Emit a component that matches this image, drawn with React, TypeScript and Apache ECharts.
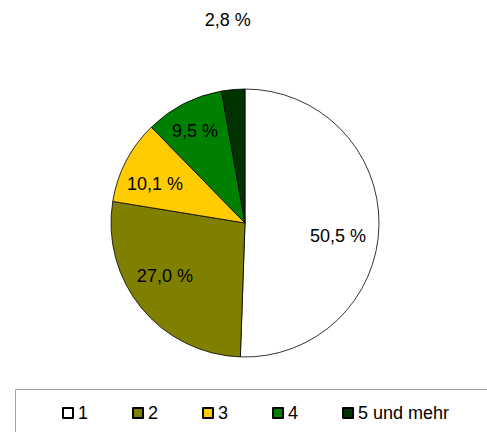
import React, { useEffect, useRef } from "react";
import * as echarts from "echarts";

const categories = ["1", "2", "3", "4", "5 und mehr"];
const values = [50.5, 27.0, 10.1, 9.5, 2.8];
const colors = ["#FFFFFF", "#808000", "#FFCC00", "#008000", "#003300"];
const labelOffsets = [
  [23, 12],
  [-26, 9],
  [-28, -7],
  [-18, -30],
  [-11, -133],
];

const FONT = "'Liberation Sans', Arial, sans-serif";

export default function App() {
  const ref = useRef<HTMLDivElement>(null);
  useEffect(() => {
    if (!ref.current) return;
    const chart = echarts.init(ref.current, undefined, { renderer: "svg" });
    chart.setOption({
      animation: false,
      backgroundColor: "#FFFFFF",
      legend: {
        data: categories,
        left: 62,
        top: 404,
        padding: 0,
        itemGap: 44,
        itemWidth: 10,
        itemHeight: 10,
        icon: "rect",
        textStyle: { fontFamily: FONT, fontSize: 18, color: "#000" },
      },
      graphic: [
        {
          type: "rect",
          shape: { x: 15.5, y: 389.5, width: 500, height: 100 },
          style: { fill: "none", stroke: "#A0A0A0", lineWidth: 1 },
          silent: true,
        },
      ],
      series: [
        {
          type: "pie",
          center: [245, 223],
          radius: [0, 134],
          startAngle: 90,
          clockwise: true,
          avoidLabelOverlap: false,
          itemStyle: { borderColor: "#000", borderWidth: 0.8 },
          label: {
            show: true,
            position: "inside",
            color: "#000",
            fontFamily: FONT,
            fontSize: 18,
            formatter: (p: any) => p.value.toFixed(1).replace(".", ",") + " %",
          },
          labelLine: { show: false },
          emphasis: { disabled: true },
          data: categories.map((c, i) => ({
            name: c,
            value: values[i],
            itemStyle: { color: colors[i] },
            label: { offset: labelOffsets[i] },
          })),
        },
      ],
    });
    return () => chart.dispose();
  }, []);
  return (
    <div
      ref={ref}
      style={{ position: "fixed", left: 0, top: 0, width: 487, height: 432 }}
    />
  );
}
